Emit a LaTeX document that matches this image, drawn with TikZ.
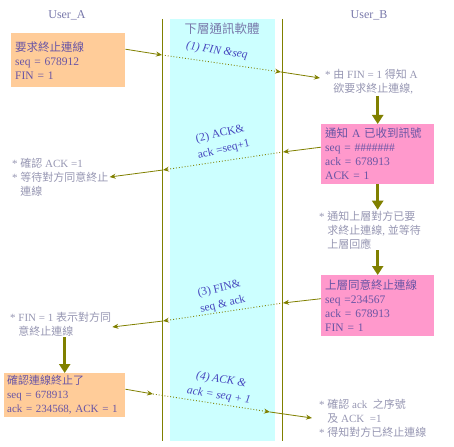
\documentclass[tikz,border=0pt]{standalone}
\usepackage{fontspec}
\setmainfont{Liberation Serif}
\newfontfamily\cjk{Noto Sans CJK TC}
\usepackage{xcolor}
\usepackage{tikz}
\usetikzlibrary{arrows.meta,calc,positioning}
\definecolor{linecolor}{RGB}{128,128,0}
\definecolor{bandcolor}{RGB}{204,255,255}
\definecolor{acolor}{RGB}{255,204,153}
\definecolor{bcolor}{RGB}{255,153,204}
\definecolor{boxtext}{RGB}{105,85,165}
\definecolor{notetext}{RGB}{150,150,178}
\definecolor{headtext}{RGB}{120,120,170}
\definecolor{labeltext}{RGB}{70,70,190}

\begin{document}
\begin{tikzpicture}[x=1pt,y=-1pt,>={Stealth[length=6pt,width=5pt]},
    msgbox/.style={anchor=north west,align=left,inner xsep=4pt,inner ysep=0pt,
      text=boxtext,font=\fontsize{11.5}{14}\selectfont},
    note/.style={anchor=west,align=left,inner sep=1pt,text=notetext,
      font=\fontsize{11}{14}\selectfont},
    seglabel/.style={align=center,text=labeltext,font=\fontsize{11.5}{16}\selectfont},
    wire/.style={->,linecolor,line width=0.8pt},
    wiredot/.style={->,linecolor,line width=0.9pt,dotted},
    bigarrow/.style={-{Triangle[length=9pt,width=11pt]},linecolor,line width=2.5pt}]
  \useasboundingbox (0,0) rectangle (454,446);
  % lower layer band and the two life lines
  \fill[bandcolor] (170,19) rectangle (275,441);
  \draw[linecolor,line width=0.9pt] (162,19) -- (162,441);
  \draw[linecolor,line width=0.9pt] (282,19) -- (282,441);
  \node[text=headtext,font=\fontsize{12}{14}\selectfont] (userA) at (67,15) {User\_A};
  \node[text=headtext,font=\fontsize{12}{14}\selectfont] (userB) at (369,15) {User\_B};
  \node[text=headtext,font=\fontsize{12.5}{14}\selectfont\cjk] (lower) at (222,29) {下層通訊軟體};

  % boxes of the two users
  \node[msgbox,fill=acolor,minimum width=114,minimum height=54,text width=106] (ua1) at (11,33)
    {{\cjk 要求終止連線}\\seq = 678912\\FIN = 1};
  \node[msgbox,fill=bcolor,minimum width=113,minimum height=60,text width=105] (ub2) at (321,124)
    {{\cjk 通知} A {\cjk 已收到訊號}\\seq = \#\#\#\#\#\#\#\\ack = 678913\\ACK = 1};
  \node[msgbox,fill=bcolor,minimum width=113,minimum height=61,text width=105] (ub3) at (321,275)
    {{\cjk 上層同意終止連線}\\seq =234567\\ack = 678913\\FIN = 1};
  \node[msgbox,fill=acolor,minimum width=121,minimum height=44,text width=115,inner xsep=3pt,
    font=\fontsize{11}{14}\selectfont] (ua4) at (4,373)
    {{\cjk 確認連線終止了}\\seq = 678913\\ack = 234568, ACK = 1};

  % notes
  \node[note] (nb1) at (324,82) {* {\cjk 由} FIN = 1 {\cjk 得知} A\\\phantom{* }{\cjk 欲要求終止連線}, };
  \node[note] (na2) at (11,177) {* {\cjk 確認} ACK =1\\* {\cjk 等待對方同意終止}\\\phantom{* }{\cjk 連線}};
  \node[note] (nb2) at (318,230) {* {\cjk 通知上層對方已要}\\\phantom{* }{\cjk 求終止連線}, {\cjk 並等待}\\\phantom{* }{\cjk 上層回應}};
  \node[note] (na3) at (9,324) {* FIN = 1 {\cjk 表示對方同}\\\phantom{* }{\cjk 意終止連線}};
  \node[note] (nb4) at (318,418) {* {\cjk 確認} ack\ \ {\cjk 之序號}\\\phantom{* }{\cjk 及} ACK\ \ =1\\* {\cjk 得知對方已終止連線}};

  % labels in the band
  \node[seglabel,rotate=-9,font=\fontsize{11.5}{16}\selectfont\itshape] (lbl1) at (217,51) {(1) FIN \&seq};
  \node[seglabel,rotate=13] (lbl2) at (222,142) {(2) ACK\&\\ack =seq+1};
  \node[seglabel,rotate=13] (lbl3) at (221,297) {(3) FIN\&\\seq \& ack};
  \node[seglabel,rotate=-9,font=\fontsize{11.5}{16}\selectfont\itshape] (lbl4) at (220,388) {(4) ACK \&\\ack = seq + 1};

  % where the messages cross the life lines
  \coordinate (fa1) at (162,55);
  \coordinate (fb1) at (281,72);
  \coordinate (fb2) at (283,152);
  \coordinate (fa2) at (163,170);
  \coordinate (fb3) at (283,303);
  \coordinate (fa3) at (163,321);
  \coordinate (fa4) at (153,394);
  \coordinate (fb4) at (270,412);

  \draw[wire] ([yshift=11pt]ua1.east) -- (fa1);
  \draw[wiredot] (fa1) -- (fb1);
  \draw[wire] (fb1) -- ([xshift=-4pt,yshift=4pt]nb1.west);

  \draw[wire] ([yshift=7pt]ub2.west) -- (fb2);
  \draw[wiredot] (fb2) -- (fa2);
  \draw[wire] (fa2) -- (na2.east);

  \draw[wire] ([yshift=7pt]ub3.west) -- (fb3);
  \draw[wiredot] (fb3) -- (fa3);
  \draw[wire] (fa3) -- ([yshift=-3pt]na3.east);

  \draw[wire] ([yshift=6pt]ua4.east) -- (fa4);
  \draw[wiredot] (fa4) -- (fb4);
  \draw[wire] (fb4) -- ([xshift=-6pt]nb4.west);

  % steps inside each user
  \draw[bigarrow] (ub2.north |- nb1.south) -- (ub2.north);
  \draw[bigarrow] (ub2.south) -- (ub2.south |- nb2.north);
  \draw[bigarrow] (ub3.north |- nb2.south) -- (ub3.north);
  \draw[bigarrow] (ua4.north |- na3.south) -- (ua4.north);
\end{tikzpicture}
\end{document}
